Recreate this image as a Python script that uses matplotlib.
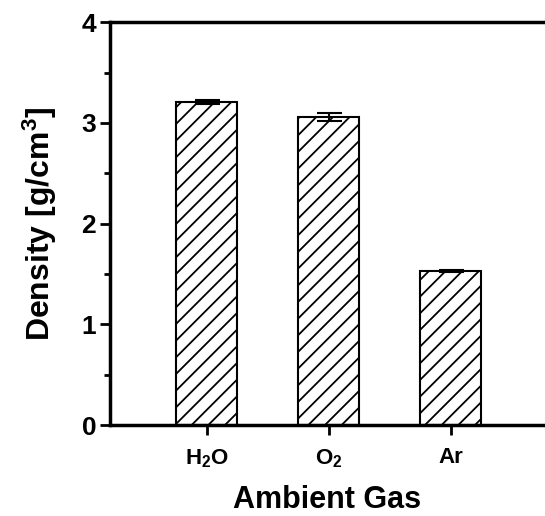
import numpy as np
from matplotlib import pyplot as plt
from matplotlib.ticker import MultipleLocator

gases = ['H$_2$O', 'O$_2$', 'Ar']
density = [3.21, 3.06, 1.53]
errors = [0.02, 0.04, 0.01]

plt.rcParams['font.family'] = 'Liberation Sans'
plt.rcParams['font.weight'] = 'bold'
plt.rcParams['axes.labelweight'] = 'bold'
plt.rcParams['mathtext.fontset'] = 'custom'
plt.rcParams['mathtext.rm'] = 'Liberation Sans:bold'
plt.rcParams['mathtext.it'] = 'Liberation Sans:bold'
plt.rcParams['mathtext.bf'] = 'Liberation Sans:bold'
plt.rcParams['hatch.linewidth'] = 1.3

fig = plt.figure(figsize=(5.45, 5.16), dpi=100)
ax = fig.add_axes([0.202, 0.176, 0.797, 0.781])

x = np.arange(1, len(gases) + 1)
ax.bar(x, density, width=0.5, color='white', edgecolor='black',
       linewidth=1.5, hatch='//')
ax.errorbar(x, density, yerr=errors, fmt='none', ecolor='black',
            elinewidth=1.5, capsize=9, capthick=1.5)

ax.set_xlim(0.205, 3.77)
ax.set_ylim(0, 4)
ax.set_xticks(x)
ax.set_xticklabels(gases, fontsize=16)
ax.yaxis.set_major_locator(MultipleLocator(1))
ax.yaxis.set_minor_locator(MultipleLocator(0.5))
ax.tick_params(axis='y', which='major', direction='out', length=7, width=2,
               labelsize=19, pad=3)
ax.tick_params(axis='y', which='minor', direction='out', length=4, width=2)
ax.tick_params(axis='x', direction='out', length=7, width=2, pad=9)

for s in ['left', 'bottom', 'top']:
    ax.spines[s].set_linewidth(2.5)
ax.spines['right'].set_visible(False)

ax.set_xlabel('Ambient Gas', fontsize=22, labelpad=11)
ax.set_ylabel('Density [g/cm$^3$]', fontsize=23, labelpad=16)

fig.savefig('out.png', dpi=100)
